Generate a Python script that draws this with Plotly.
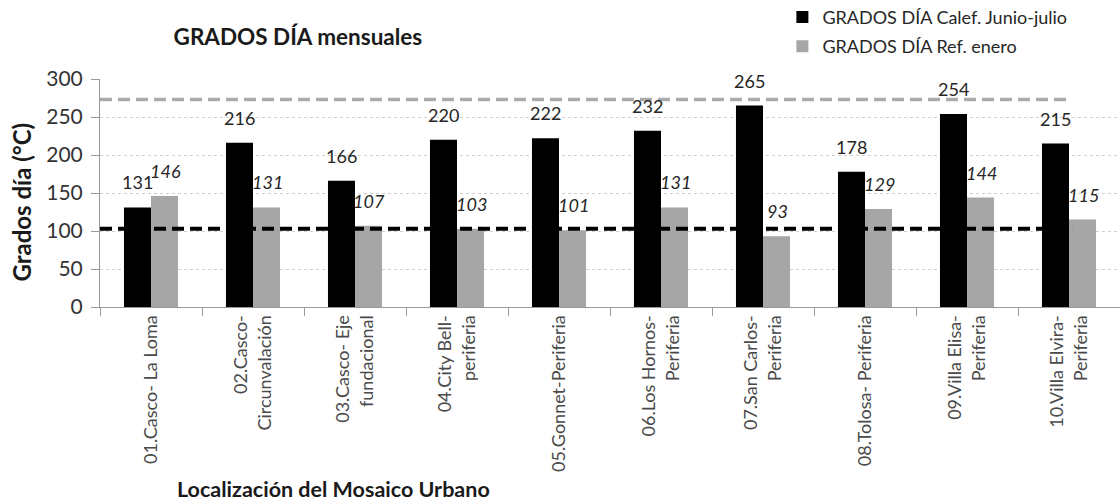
import plotly.graph_objects as go

# Urban mosaic locations (two-line tick labels)
localizaciones = [
    "01.Casco- La Loma",
    "02.Casco-<br>Circunvalación",
    "03.Casco- Eje<br>fundacional",
    "04.City Bell-<br>periferia",
    "05.Gonnet-Periferia",
    "06.Los Hornos-<br>Periferia",
    "07.San Carlos-<br>Periferia",
    "08.Tolosa- Periferia",
    "09.Villa Elisa-<br>Periferia",
    "10.Villa Elvira-<br>Periferia",
]

# Monthly degree-days
gd_calef_jun_jul = [131, 216, 166, 220, 222, 232, 265, 178, 254, 215]
gd_ref_enero = [146, 131, 107, 103, 101, 131, 93, 129, 144, 115]

# Reference levels drawn as horizontal dashed lines
nivel_ref_gris = 273
nivel_ref_negro = 103

y_ticks = [0, 50, 100, 150, 200, 250, 300]

NEGRO = "#000000"
GRIS = "#a6a6a6"
TXT = "#404040"
FONT = "Lato"

fig = go.Figure()
fig.add_trace(go.Bar(
    x=localizaciones, y=gd_calef_jun_jul, name="GRADOS DÍA Calef. Junio-julio",
    marker=dict(color=NEGRO, line=dict(width=0)), legendgroup="a",
))
fig.add_trace(go.Bar(
    x=localizaciones, y=gd_ref_enero, name="GRADOS DÍA Ref. enero",
    marker=dict(color=GRIS, line=dict(width=0)), legendgroup="b",
))

# Horizontal reference lines
for nivel, col, w in [(nivel_ref_gris, "#aaaaaa", 3.5), (nivel_ref_negro, NEGRO, 4)]:
    fig.add_shape(type="line", xref="x domain", yref="y", x0=0, x1=0.953,
                  y0=nivel, y1=nivel, line=dict(color=col, width=w, dash="12px,6px"),
                  layer="above")

# Value labels above each bar
anns = []
for cat, v in zip(localizaciones, gd_calef_jun_jul):
    anns.append(dict(x=cat, y=v, xref="x", yref="y", text=str(v), showarrow=False,
                     xshift=-14, yshift=12, yanchor="bottom",
                     font=dict(family=FONT, size=18, color="#262626")))
for cat, v in zip(localizaciones, gd_ref_enero):
    anns.append(dict(x=cat, y=v, xref="x", yref="y", text=f"<i>{v}</i>", showarrow=False,
                     xshift=14, yshift=12, yanchor="bottom",
                     font=dict(family=FONT, size=18, color="#262626")))

# Axis titles
anns.append(dict(text="<b>Localización del Mosaico Urbano</b>", xref="paper", yref="paper",
                 x=0.229, y=-0.80, xanchor="center", yanchor="middle", showarrow=False,
                 font=dict(family=FONT, size=21.5, color="#1a1a1a")))
anns.append(dict(text="<b>Grados día (°C)</b>", xref="paper", yref="paper",
                 x=-0.077, y=0.46, xanchor="center", yanchor="middle", textangle=-90,
                 showarrow=False, font=dict(family=FONT, size=24, color="#1a1a1a")))

fig.update_layout(
    width=1120, height=502,
    margin=dict(l=100, r=0, t=79, b=195, autoexpand=False),
    paper_bgcolor="white", plot_bgcolor="white",
    barmode="group", bargap=0.47, bargroupgap=0,
    title=dict(text="<b>GRADOS DÍA mensuales</b>", x=0.266, xref="container",
               y=0.926, yref="container", xanchor="center", yanchor="middle",
               font=dict(family=FONT, size=22.5, color="#1a1a1a")),
    legend=dict(x=0.669, y=1.352, xanchor="left", yanchor="top", orientation="v",
                traceorder="grouped", tracegroupgap=3, bgcolor="rgba(0,0,0,0)",
                font=dict(family=FONT, size=18, color="#262626")),
    annotations=anns,
    font=dict(family=FONT, color=TXT),
)

fig.update_yaxes(
    range=[0, 300], tickvals=y_ticks, showgrid=True, gridcolor="#d0d0d0", griddash="dot",
    gridwidth=1, showline=True, linecolor="#999999", linewidth=1,
    ticks="outside", ticklen=8, tickcolor="#999999", ticklabelstandoff=4,
    tickfont=dict(family=FONT, size=21, color="#333333"), zeroline=False,
)
fig.update_xaxes(
    showline=True, linecolor="#999999", linewidth=1, ticks="outside", ticklen=8,
    tickcolor="#999999", tickson="boundaries", tickangle=-90,
    tickfont=dict(family=FONT, size=18, color="#4a4a4a"),
)

fig.write_html("out.html")
